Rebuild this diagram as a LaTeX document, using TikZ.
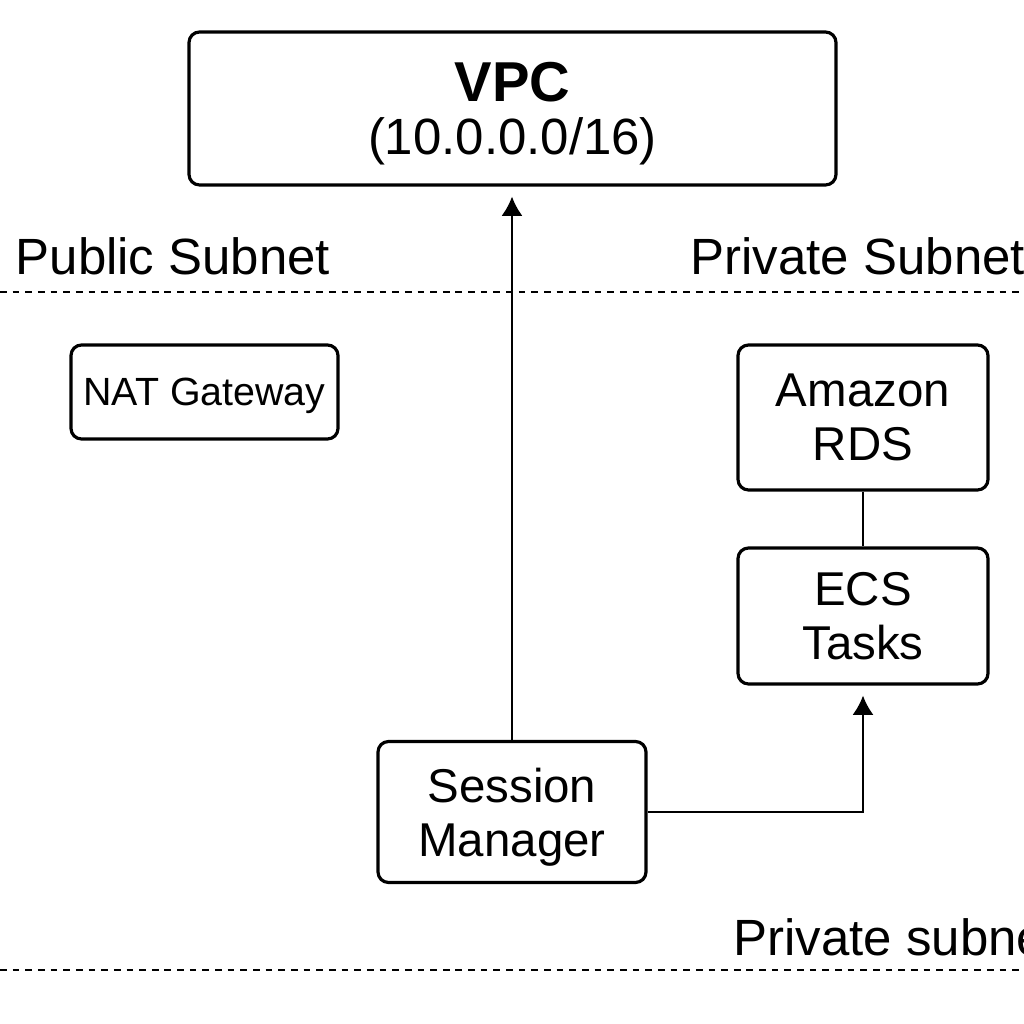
\documentclass[tikz,border=0pt]{standalone}
\usepackage{fontspec}
\setmainfont{Liberation Sans}
\usetikzlibrary{arrows.meta}
\begin{document}
\begin{tikzpicture}[
	box/.style={draw, line width=0.9pt, rounded corners=3pt, align=center, inner sep=0pt, text depth=0pt, font=\fontsize{13.5}{15.4}\selectfont},
	subnet/.style={anchor=base west, inner sep=0pt, font=\fontsize{14.5}{16}\selectfont},
	divider/.style={line width=0.75pt, dash pattern=on 1.9pt off 1.7pt}
	]
	\useasboundingbox (0,0) rectangle (10.24,10.24);
	\clip (0,0) rectangle (10.24,10.24);
	% subnet labels and dividers
	\node[subnet] (pub) at (0.15,7.49) {Public Subnet};
	\node[subnet] (priv) at (6.90,7.49) {Private Subnet};
	\node[subnet] (privlow) at (7.33,0.69) {Private subnet};
	\draw[divider] (0,7.32) -- (10.24,7.32);
	\draw[divider] (0,0.54) -- (10.24,0.54);
	% boxes
	\node[box, minimum width=6.47cm, minimum height=1.53cm, font=\fontsize{14.5}{16}\selectfont] (vpc) at (5.125,9.155) {{\fontsize{16}{16}\selectfont\textbf{VPC}}\\[-0.8pt](10.0.0.0/16)};
	\node[box, minimum width=2.67cm, minimum height=0.94cm, font=\fontsize{11.2}{13}\selectfont] (nat) at (2.045,6.32) {NAT Gateway};
	\node[box, minimum width=2.50cm, minimum height=1.45cm] (rds) at (8.63,6.065) {Amazon\\RDS};
	\node[box, minimum width=2.50cm, minimum height=1.36cm] (ecs) at (8.63,4.08) {ECS\\Tasks};
	\node[box, minimum width=2.68cm, minimum height=1.41cm] (ssm) at (5.12,2.12) {Session\\Manager};
	% connectors
	\draw[line width=0.6pt] (rds) -- (ecs);
	\draw[-{Latex[length=5.5pt,width=6pt]}, line width=0.6pt, shorten >=1mm] (ssm) -- (ssm |- vpc.south);
	\draw[-{Latex[length=5.5pt,width=6pt]}, line width=0.6pt, shorten >=1mm] (ssm.east) -| (ecs.south);
\end{tikzpicture}
\end{document}
